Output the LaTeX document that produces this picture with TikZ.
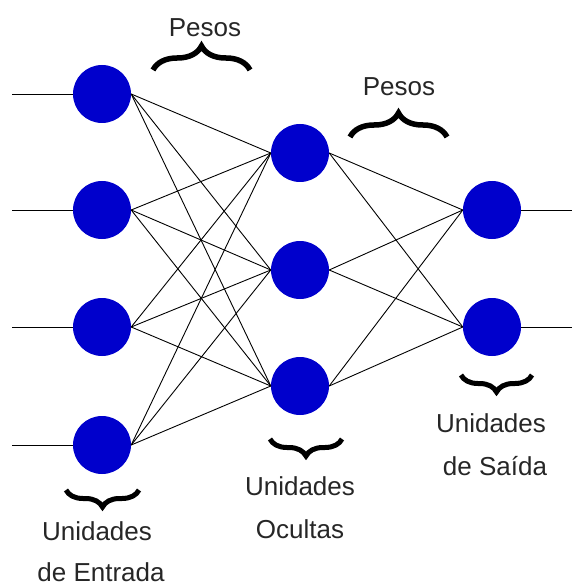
\documentclass[tikz,border=0pt]{standalone}
\usepackage{fontspec}
\setmainfont{Liberation Sans}
\usetikzlibrary{decorations.pathreplacing}
\definecolor{unitblue}{RGB}{0,0,204}
\begin{document}
\begin{tikzpicture}[x=1pt,y=-1pt,
  unit/.style={circle,fill=unitblue,draw=none,minimum size=58pt,inner sep=0pt},
  link/.style={draw=black,line width=0.9pt},
  lbl/.style={anchor=base,font=\fontsize{26}{30}\selectfont,text=black!85,inner sep=0pt},
  bigbrace/.style={decorate,decoration={brace,amplitude=24pt},line width=5.5pt},
  smallbrace/.style={decorate,decoration={brace,amplitude=17pt},line width=5pt}]
\useasboundingbox (0,0) rectangle (572,585);
% units
\node[unit] (i1) at (102,94) {};
\node[unit] (i2) at (102,210) {};
\node[unit] (i3) at (102,327) {};
\node[unit] (i4) at (102,445) {};
\node[unit] (h1) at (300,153) {};
\node[unit] (h2) at (300,270) {};
\node[unit] (h3) at (300,386) {};
\node[unit] (o1) at (492,210) {};
\node[unit] (o2) at (492,327) {};
% free ends
\coordinate (a1) at (12,94);
\coordinate (a2) at (12,210);
\coordinate (a3) at (12,327);
\coordinate (a4) at (12,445);
\coordinate (b1) at (572,210);
\coordinate (b2) at (572,327);
\foreach \k in {1,2,3,4} {\draw[link] (a\k) -- (i\k.west);}
\foreach \k in {1,2} {\draw[link] (o\k.east) -- (b\k);}
\foreach \i in {1,2,3,4} {\foreach \h in {1,2,3} {\draw[link] (i\i.east) -- (h\h.west);}}
\foreach \h in {1,2,3} {\foreach \o in {1,2} {\draw[link] (h\h.east) -- (o\o.west);}}
% braces
\coordinate (p1l) at (153,70);
\coordinate (p1r) at (250,70);
\coordinate (p2l) at (350,137);
\coordinate (p2r) at (447,137);
\draw[bigbrace] (p1l) -- (p1r);
\draw[bigbrace] (p2l) -- (p2r);
\coordinate (e1l) at (66,490);
\coordinate (e1r) at (139,490);
\coordinate (e2l) at (270,439);
\coordinate (e2r) at (342,439);
\coordinate (e3l) at (461,375);
\coordinate (e3r) at (532,375);
\draw[smallbrace] (e1r) -- (e1l);
\draw[smallbrace] (e2r) -- (e2l);
\draw[smallbrace] (e3r) -- (e3l);
% labels
\node[lbl] (w1) at (205,37) {Pesos};
\node[lbl] (w2) at (399,96) {Pesos};
\node[lbl] (t1) at (97,540) {Unidades};
\node[lbl] (t1b) at (101,581) {de Entrada};
\node[lbl] (t2) at (300,495) {Unidades};
\node[lbl] (t2b) at (300,538) {Ocultas};
\node[lbl] (t3) at (491,432) {Unidades};
\node[lbl] (t3b) at (495,475) {de Saída};
\end{tikzpicture}
\end{document}
